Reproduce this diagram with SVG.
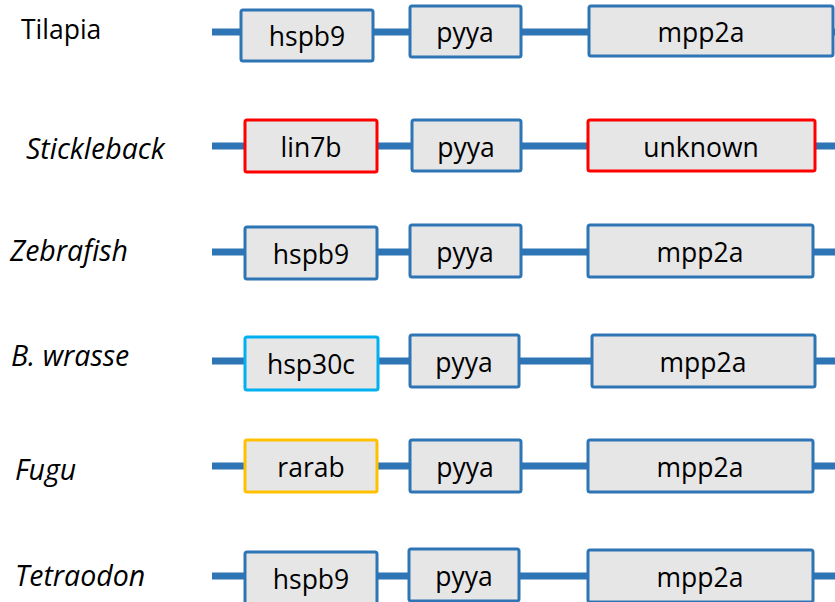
<svg xmlns="http://www.w3.org/2000/svg" width="835" height="602" viewBox="0 0 835 602">
<style>
.bg{fill:#ffffff}
.line{stroke:#2E75B6;stroke-width:7;fill:none}
.box{fill:#E6E6E6;stroke:#2E75B6;stroke-width:3}
.red{stroke:#FF0000}
.cyan{stroke:#00B0F0}
.gold{stroke:#FFC000}
.t{font-family:"Open Sans","Liberation Sans",sans-serif;font-size:26.5px;fill:#000;text-anchor:middle}
.sp{font-family:"Open Sans","Liberation Sans",sans-serif;font-size:26.5px;fill:#000}
.it{font-style:italic;font-size:28.5px}
</style>
<rect class="bg" x="0" y="0" width="835" height="602"/>
<g id="connectors">
<line class="line" x1="212" y1="32" x2="835" y2="32"/>
<line class="line" x1="212" y1="146" x2="835" y2="146"/>
<line class="line" x1="212" y1="252" x2="835" y2="252"/>
<line class="line" x1="212" y1="361" x2="835" y2="361"/>
<line class="line" x1="212" y1="466" x2="835" y2="466"/>
<line class="line" x1="212" y1="576" x2="835" y2="576"/>
</g>
<g id="labels">
<text class="sp" x="21" y="39">Tilapia</text>
<text class="sp it" x="26" y="159">Stickleback</text>
<text class="sp it" x="10" y="261">Zebrafish</text>
<text class="sp it" x="11" y="366">B. wrasse</text>
<text class="sp it" x="15" y="480">Fugu</text>
<text class="sp it" x="15" y="586">Tetraodon</text>
</g>
<g id="row1">
<g id="r1-hspb9"><rect class="box" x="241" y="10" width="132" height="51" rx="2"/><text class="t" x="307" y="46">hspb9</text></g>
<g id="r1-pyya"><rect class="box" x="410" y="6" width="111" height="51" rx="2"/><text class="t" x="465" y="42">pyya</text></g>
<g id="r1-mpp2a"><rect class="box" x="589" y="6" width="244" height="50" rx="2"/><text class="t" x="701" y="42">mpp2a</text></g>
</g>
<g id="row2">
<g id="r2-lin7b"><rect class="box red" x="245" y="120" width="132" height="52" rx="2"/><text class="t" x="311" y="157">lin7b</text></g>
<g id="r2-pyya"><rect class="box" x="412" y="120" width="109" height="51" rx="2"/><text class="t" x="466" y="157">pyya</text></g>
<g id="r2-unknown"><rect class="box red" x="588" y="120" width="227" height="51" rx="2"/><text class="t" x="701" y="157">unknown</text></g>
</g>
<g id="row3">
<g id="r3-hspb9"><rect class="box" x="245" y="227" width="132" height="52" rx="2"/><text class="t" x="311" y="264">hspb9</text></g>
<g id="r3-pyya"><rect class="box" x="410" y="225" width="111" height="52" rx="2"/><text class="t" x="465" y="262">pyya</text></g>
<g id="r3-mpp2a"><rect class="box" x="588" y="225" width="225" height="52" rx="2"/><text class="t" x="700" y="262">mpp2a</text></g>
</g>
<g id="row4">
<g id="r4-hsp30c"><rect class="box cyan" x="245" y="337" width="133" height="53" rx="2"/><text class="t" x="311" y="374">hsp30c</text></g>
<g id="r4-pyya"><rect class="box" x="410" y="335" width="109" height="52" rx="2"/><text class="t" x="464" y="372">pyya</text></g>
<g id="r4-mpp2a"><rect class="box" x="592" y="335" width="223" height="52" rx="2"/><text class="t" x="703" y="372">mpp2a</text></g>
</g>
<g id="row5">
<g id="r5-rarab"><rect class="box gold" x="245" y="440" width="132" height="52" rx="2"/><text class="t" x="311" y="477">rarab</text></g>
<g id="r5-pyya"><rect class="box" x="410" y="440" width="111" height="52" rx="2"/><text class="t" x="465" y="477">pyya</text></g>
<g id="r5-mpp2a"><rect class="box" x="588" y="440" width="225" height="52" rx="2"/><text class="t" x="700" y="477">mpp2a</text></g>
</g>
<g id="row6">
<g id="r6-hspb9"><rect class="box" x="245" y="552" width="132" height="52" rx="2"/><text class="t" x="311" y="589">hspb9</text></g>
<g id="r6-pyya"><rect class="box" x="409" y="549" width="110" height="52" rx="2"/><text class="t" x="464" y="586">pyya</text></g>
<g id="r6-mpp2a"><rect class="box" x="588" y="550" width="225" height="52" rx="2"/><text class="t" x="700" y="587">mpp2a</text></g>
</g>
</svg>
